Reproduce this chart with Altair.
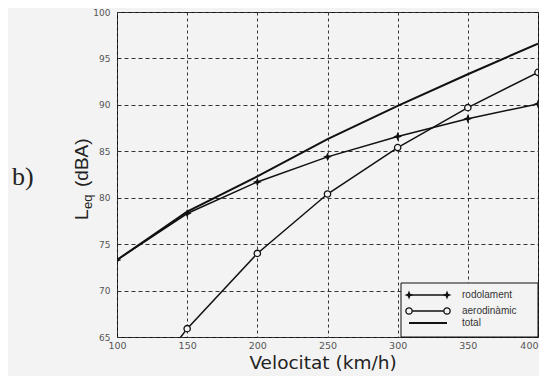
import altair as alt
import pandas as pd

# ---- data ----
speeds = [100, 150, 200, 250, 300, 350, 400]
rodolament = [73.3, 78.3, 81.7, 84.4, 86.6, 88.5, 90.1]
aerodinamic = [56.0, 65.9, 74.0, 80.4, 85.4, 89.7, 93.5]
total = [73.3, 78.5, 82.3, 86.3, 89.9, 93.3, 96.6]
series_names = ["rodolament", "aerodinàmic", "total"]
x_ticks = [100, 150, 200, 250, 300, 350, 400]
y_ticks = [65, 70, 75, 80, 85, 90, 95, 100]

BG = "#f3f3f3"
INK = "#111111"
STAR = "M0,-1L0.28,-0.28L1,0L0.28,0.28L0,1L-0.28,0.28L-1,0L-0.28,-0.28Z"

df = pd.DataFrame({
    "speed": speeds * 3,
    "level": rodolament + aerodinamic + total,
    "series": [series_names[0]] * 7 + [series_names[1]] * 7 + [series_names[2]] * 7,
})

x_enc = alt.X(
    "speed:Q",
    scale=alt.Scale(domain=[100, 400], nice=False, zero=False),
    axis=alt.Axis(
        values=x_ticks, format="d", title=None, labelFlush=False, labelOverlap=False,
        labelAlign={"expr": "datum.value >= 400 ? 'right' : 'center'"},
        grid=True, gridDash=[3, 3], gridColor="#333333", gridWidth=1,
        ticks=False, domain=False, labelPadding=3,
        labelFont="DejaVu Sans", labelFontSize=9.5, labelColor="#555555",
    ),
)
y_enc = alt.Y(
    "level:Q",
    scale=alt.Scale(domain=[65, 100], nice=False, zero=False),
    axis=alt.Axis(
        values=y_ticks, format="d", title=None, labelFlush=False, labelOverlap=False,
        grid=True, gridDash=[4, 3], gridColor="#333333", gridWidth=1,
        ticks=False, domain=False, labelPadding=7,
        labelFont="DejaVu Sans", labelFontSize=9, labelColor="#555555",
    ),
)

base = alt.Chart(df).encode(x=x_enc, y=y_enc)


def sel(name):
    return alt.datum.series == name


lines = alt.layer(
    base.transform_filter(sel("rodolament")).mark_line(color=INK, strokeWidth=1.5, clip=True),
    base.transform_filter(sel("aerodinàmic")).mark_line(color=INK, strokeWidth=1.5, clip=True),
    base.transform_filter(sel("total")).mark_line(color=INK, strokeWidth=2, clip=True),
    base.transform_filter(sel("rodolament")).mark_point(
        shape=STAR, size=80, filled=True, color=INK, opacity=1, clip=True),
    base.transform_filter(sel("aerodinàmic")).mark_point(
        shape="circle", size=40, fill=BG, fillOpacity=1, stroke=INK, strokeWidth=1.3,
        opacity=1, clip=True),
)

one = pd.DataFrame({"k": [0]})

# ---- legend box (drawn manually) ----
leg = [alt.Chart(one).mark_rect(fill=BG, stroke=INK, strokeWidth=1).encode(
    x=alt.value(284), x2=alt.value(421), y=alt.value(271), y2=alt.value(325))]
rows = [(283, "rodolament"), (299, "aerodinàmic"), (311, "total")]
for ypx, name in rows:
    leg.append(alt.Chart(one).mark_rule(color=INK, strokeWidth=1.5 if name != "total" else 2).encode(
        x=alt.value(292), x2=alt.value(330), y=alt.value(ypx)))
    for xpx in (292, 330):
        if name == "rodolament":
            leg.append(alt.Chart(one).mark_point(shape=STAR, size=80, filled=True, color=INK,
                                                 opacity=1).encode(x=alt.value(xpx), y=alt.value(ypx)))
        elif name == "aerodinàmic":
            leg.append(alt.Chart(one).mark_point(shape="circle", size=40, fill=BG, fillOpacity=1,
                                                 stroke=INK, strokeWidth=1.3, opacity=1).encode(
                x=alt.value(xpx), y=alt.value(ypx)))
    leg.append(alt.Chart(one).mark_text(text=name, align="left", baseline="middle",
                                        font="Liberation Sans", fontSize=10, color="#333333").encode(
        x=alt.value(345), y=alt.value(ypx)))

# ---- axis titles (y with subscript) and the panel label ----
titles = [
    alt.Chart(one).mark_text(text="Velocitat (km/h)", align="center", baseline="alphabetic",
                             font="DejaVu Sans", fontSize=18.5, color="#222222").encode(
        x=alt.value(206), y=alt.value(357)),
    alt.Chart(one).mark_text(text="L", angle=270, align="left", baseline="alphabetic",
                             font="Liberation Sans", fontSize=19, color="#222222").encode(
        x=alt.value(-29), y=alt.value(208)),
    alt.Chart(one).mark_text(text="eq", angle=270, align="left", baseline="alphabetic",
                             font="Liberation Sans", fontSize=13, color="#222222").encode(
        x=alt.value(-25), y=alt.value(197)),
    alt.Chart(one).mark_text(text="(dBA)", angle=270, align="left", baseline="alphabetic",
                             font="Liberation Sans", fontSize=19, color="#222222").encode(
        x=alt.value(-29), y=alt.value(175)),
    alt.Chart(one).mark_text(text="b)", align="left", baseline="alphabetic",
                             font="Liberation Serif", fontSize=26, color="#222222").encode(
        x=alt.value(-105), y=alt.value(173)),
]

chart = alt.layer(lines, *leg, *titles).properties(
    width=421, height=325,
    background=BG,
    padding={"left": 109, "top": 4, "right": 1, "bottom": 39},
    autosize=alt.AutoSizeParams(type="none"),
).configure_view(stroke=INK, strokeWidth=1, fill=BG)

chart.save("out.html", embed_options={"renderer": "svg", "actions": False})
